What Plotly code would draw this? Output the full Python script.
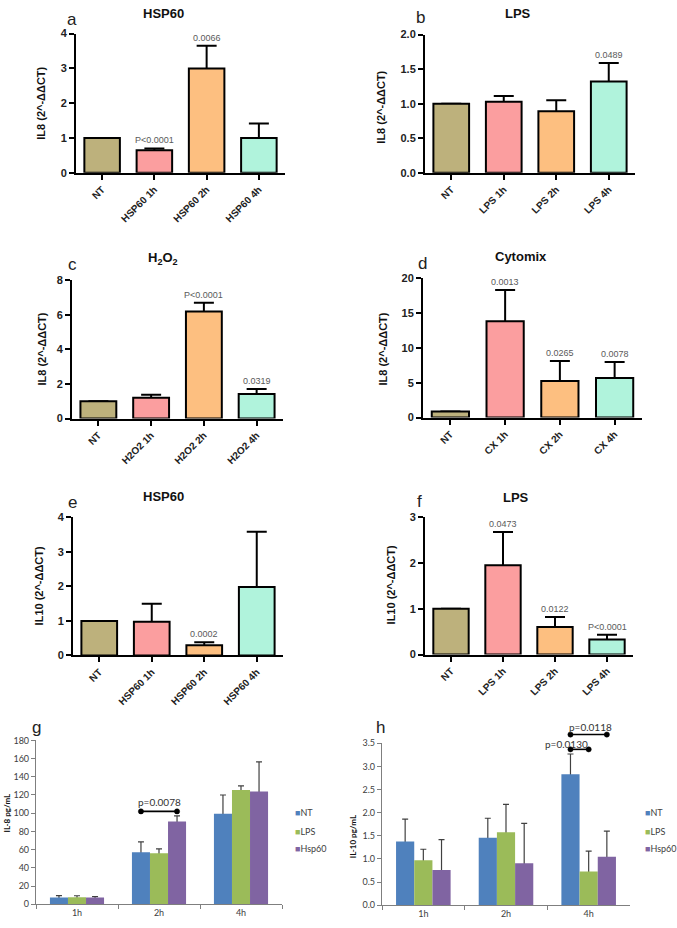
import plotly.graph_objects as go

W, H = 677, 928

# ---------------- data ----------------
cats_a = ["NT", "HSP60 1h", "HSP60 2h", "HSP60 4h"]
vals_a = [1.0, 0.65, 3.0, 1.0]
err_a = [0, 0.05, 0.65, 0.42]
p_a = ["", "P<0.0001", "0.0066", ""]

cats_b = ["NT", "LPS 1h", "LPS 2h", "LPS 4h"]
vals_b = [1.0, 1.03, 0.89, 1.32]
err_b = [0, 0.08, 0.16, 0.27]
p_b = ["", "", "", "0.0489"]

cats_c = ["NT", "H2O2 1h", "H2O2 2h", "H2O2 4h"]
vals_c = [1.0, 1.2, 6.2, 1.42]
err_c = [0, 0.18, 0.5, 0.3]
p_c = ["", "", "P<0.0001", "0.0319"]

cats_d = ["NT", "CX 1h", "CX 2h", "CX 4h"]
vals_d = [0.88, 13.85, 5.25, 5.7]
err_d = [0, 4.5, 2.9, 2.3]
p_d = ["", "0.0013", "0.0265", "0.0078"]

cats_e = ["NT", "HSP60 1h", "HSP60 2h", "HSP60 4h"]
vals_e = [1.0, 0.98, 0.3, 1.98]
err_e = [0, 0.52, 0.08, 1.6]
p_e = ["", "", "0.0002", ""]

cats_f = ["NT", "LPS 1h", "LPS 2h", "LPS 4h"]
vals_f = [1.0, 1.95, 0.6, 0.33]
err_f = [0, 0.73, 0.22, 0.1]
p_f = ["", "0.0473", "0.0122", "P<0.0001"]

times = ["1h", "2h", "4h"]
series_names = ["NT", "LPS", "Hsp60"]

il8_nt = [7.5, 57, 99.5]
il8_nt_err = [2, 11.5, 20.5]
il8_lps = [7.8, 56, 125.5]
il8_lps_err = [1.5, 4.8, 4.5]
il8_hsp = [7.5, 91, 123.8]
il8_hsp_err = [1, 6, 32.5]

il10_nt = [1.38, 1.46, 2.83]
il10_nt_err = [0.48, 0.42, 0.44]
il10_lps = [0.97, 1.58, 0.73]
il10_lps_err = [0.24, 0.6, 0.44]
il10_hsp = [0.76, 0.91, 1.05]
il10_hsp_err = [0.66, 0.86, 0.55]

# significance comparisons: (panel, category index, from offset, to offset, level, label)
sig_g = [(7, 1, -0.22, 0.22, 102, "p=0.0078")]
sig_h = [(8, 2, -0.22, 0.22, 3.69, "p=0.0118"),
         (8, 2, -0.22, 0.0, 3.37, "p=0.0130")]

bar_colors = ["#bdb17c", "#fb9e9f", "#fdbf80", "#b0f3dc"]
excel_colors = ["#4f81bd", "#9bbb59", "#8064a2"]

FONT = "Liberation Sans, Arial, sans-serif"
XFONT = "Lato, Open Sans, sans-serif"


def px(x):
    return x / W


def py(y):
    return 1 - y / H


fig = go.Figure()
annotations = []
shapes = []
layout = {}

# panel geometry (pixels): x0, x1, ytop, ybottom
geom = {
    1: (76, 285, 28, 169),
    2: (425, 635, 29, 169),
    3: (72, 283, 278, 418),
    4: (423, 642, 276, 417),
    5: (73, 283, 518, 658),
    6: (425, 633, 518, 657),
    7: (36, 282, 744, 910),
    8: (382, 630, 747, 911),
}
yranges = {7: [0, 180], 8: [0, 3.5]}


def axname(i, a):
    return a + ("" if i == 1 else str(i))


def bar_panel(i, cats, vals, errs, pvals, rng, dtick, fmt):
    xa, ya = f"x{i}" if i > 1 else "x", f"y{i}" if i > 1 else "y"
    # error bars (drawn below the bars so only the upper half shows)
    fig.add_trace(go.Bar(
        x=cats, y=vals, width=0.68, xaxis=xa, yaxis=ya,
        marker=dict(color="rgba(0,0,0,0)", line=dict(width=0)),
        error_y=dict(type="data", array=errs, color="black", thickness=2, width=10),
        hoverinfo="skip", showlegend=False, opacity=1))
    fig.add_trace(go.Bar(
        x=cats, y=vals, width=0.68, xaxis=xa, yaxis=ya,
        marker=dict(color=bar_colors, line=dict(color="black", width=2)),
        showlegend=False, opacity=1))
    for c, v, e, p in zip(cats, vals, errs, pvals):
        if p:
            annotations.append(dict(
                x=c, y=v + e, xref=xa, yref=ya, text=p, showarrow=False,
                yanchor="bottom", yshift=1,
                font=dict(family=FONT, size=9, color="#5a5a5a")))
    x0, x1, yt, yb = geom[i]
    layout[axname(i, "xaxis")] = dict(
        domain=[px(x0), px(x1)], anchor=ya, range=[-0.5, 3.5],
        showline=True, linecolor="black", linewidth=2,
        ticks="outside", ticklen=5, tickwidth=1.5, tickcolor="black",
        tickangle=-45, showgrid=False, zeroline=False,
        tickfont=dict(family=FONT, size=10, color="#222", weight="bold"))
    layout[axname(i, "yaxis")] = dict(
        domain=[py(yb), py(yt)], anchor=xa, range=rng, dtick=dtick,
        tickformat=fmt, showline=True, linecolor="black", linewidth=2,
        ticks="outside", ticklen=5, tickwidth=1.5, tickcolor="black",
        showgrid=False, zeroline=False,
        tickfont=dict(family=FONT, size=11, color="#222", weight="bold"))


bar_panel(1, cats_a, vals_a, err_a, p_a, [0, 4], 1, "d")
bar_panel(2, cats_b, vals_b, err_b, p_b, [0, 2], 0.5, ".1f")
bar_panel(3, cats_c, vals_c, err_c, p_c, [0, 8], 2, "d")
bar_panel(4, cats_d, vals_d, err_d, p_d, [0, 20], 5, "d")
bar_panel(5, cats_e, vals_e, err_e, p_e, [0, 4], 1, "d")
bar_panel(6, cats_f, vals_f, err_f, p_f, [0, 3], 1, "d")


def group_panel(i, series, errs, dtick, fmt):
    xa, ya = f"x{i}", f"y{i}"
    offsets = [-0.33, -0.11, 0.11]
    for vals, err, off, col, name in zip(series, errs, offsets, excel_colors, series_names):
        fig.add_trace(go.Bar(
            x=times, y=vals, width=0.22, offset=off, xaxis=xa, yaxis=ya,
            marker=dict(color="rgba(0,0,0,0)", line=dict(width=0)),
            error_y=dict(type="data", array=err, color="#404040", thickness=1.2, width=3),
            hoverinfo="skip", showlegend=False, opacity=1))
        fig.add_trace(go.Bar(
            x=times, y=vals, width=0.22, offset=off, xaxis=xa, yaxis=ya, name=name,
            marker=dict(color=col, line=dict(width=0)), showlegend=False, opacity=1))
    x0, x1, yt, yb = geom[i]
    layout[axname(i, "xaxis")] = dict(
        domain=[px(x0), px(x1)], anchor=ya, range=[-0.5, 2.5],
        showline=True, linecolor="#7f7f7f", linewidth=1.2,
        ticks="outside", ticklen=4, tickwidth=1, tickcolor="#7f7f7f",
        tickson="boundaries", showgrid=False, zeroline=False,
        tickfont=dict(family=XFONT, size=9, color="#404040"))
    layout[axname(i, "yaxis")] = dict(
        domain=[py(yb), py(yt)], anchor=xa, range=yranges[i], dtick=dtick, tickformat=fmt,
        showline=True, linecolor="#7f7f7f", linewidth=1.2,
        ticks="outside", ticklen=4, tickwidth=1, tickcolor="#7f7f7f",
        showgrid=False, zeroline=False,
        tickfont=dict(family=XFONT, size=9, color="#404040"))


group_panel(7, [il8_nt, il8_lps, il8_hsp], [il8_nt_err, il8_lps_err, il8_hsp_err], 20, "d")
group_panel(8, [il10_nt, il10_lps, il10_hsp], [il10_nt_err, il10_lps_err, il10_hsp_err], 0.5, ".1f")


# significance brackets (dot-ended lines); y expressed as fraction of the axis domain
def bracket(i, cat, o1, o2, level, label, tx_off, ty_shift):
    xa = f"x{i}"
    yd = f"y{i} domain"
    lo, hi = yranges[i]
    yfrac = (level - lo) / (hi - lo)
    shapes.append(dict(type="line", xref=xa, yref=yd, x0=cat + o1, x1=cat + o2,
                       y0=yfrac, y1=yfrac, line=dict(color="black", width=1.6)))
    for xe in (cat + o1, cat + o2):
        shapes.append(dict(type="circle", xref=xa, yref=yd,
                           xsizemode="pixel", ysizemode="pixel",
                           xanchor=xe, yanchor=yfrac, x0=-2.6, x1=2.6, y0=-2.6, y1=2.6,
                           fillcolor="black", line=dict(color="black", width=0.5)))
    annotations.append(dict(
        x=cat + tx_off, y=yfrac, xref=xa, yref=yd, text=label, showarrow=False,
        yanchor="bottom", yshift=ty_shift,
        font=dict(family=XFONT, size=10, color="#333")))


for (i, cat, o1, o2, lev, lab), (txo, tys) in zip(sig_g + sig_h, [(0, 1), (0.02, 0), (-0.27, -3)]):
    bracket(i, cat, o1, o2, lev, lab, txo, tys)

# legends for g and h
for lx in (293, 643):
    for name, col, ly in zip(series_names, excel_colors, [817, 836, 854]):
        annotations.append(dict(
            x=px(lx), y=py(ly), xref="paper", yref="paper", xanchor="left",
            yanchor="middle", showarrow=False,
            text=f"<span style='color:{col}'>■</span>{name}",
            font=dict(family=XFONT, size=9, color="#404040")))

# panel titles and letters
titles = [
    ("HSP60", 163, 8), ("LPS", 518, 8), ("H<sub>2</sub>O<sub>2</sub>", 163, 256),
    ("Cytomix", 521, 254), ("HSP60", 163, 497), ("LPS", 516, 498),
]
for t, x, y in titles:
    annotations.append(dict(
        x=px(x), y=py(y), xref="paper", yref="paper", text=t, showarrow=False,
        xanchor="center", yanchor="middle",
        font=dict(family=FONT, size=13, color="#111", weight="bold")))

letters = [("a", 72, 14), ("b", 420, 12), ("c", 72, 262), ("d", 422, 261),
           ("e", 72, 503), ("f", 419, 502), ("g", 36, 731), ("h", 381, 731)]
for t, x, y in letters:
    annotations.append(dict(
        x=px(x), y=py(y), xref="paper", yref="paper", text=t, showarrow=False,
        xanchor="center", yanchor="middle",
        font=dict(family=FONT, size=17, color="#222")))

ytitles = [
    ("IL8 (2^-ΔΔCT)", 41, 99, 11, FONT), ("IL8 (2^-ΔΔCT)", 381, 102, 11, FONT),
    ("IL8 (2^-ΔΔCT)", 41, 348, 11, FONT), ("IL8 (2^-ΔΔCT)", 382, 348, 11, FONT),
    ("IL10 (2^-ΔΔCT)", 39, 588, 11, FONT), ("IL10 (2^-ΔΔCT)", 391, 587, 11, FONT),
    ("IL-8 pg/mL", 7, 818, 8, XFONT), ("IL-10 pg/mL", 353, 841, 8, XFONT),
]
for t, x, y, s, fam in ytitles:
    annotations.append(dict(
        x=px(x), y=py(y), xref="paper", yref="paper", text=t, showarrow=False,
        textangle=-90, xanchor="center", yanchor="middle",
        font=dict(family=fam, size=s, color="#111", weight="bold")))

fig.update_layout(
    width=W, height=H, margin=dict(l=0, r=0, t=0, b=0),
    paper_bgcolor="white", plot_bgcolor="white",
    barmode="overlay", showlegend=False, annotations=annotations, shapes=shapes,
    **layout)

fig.write_html("out.html", config={"displayModeBar": False},
               post_script="document.body.style.margin='0';document.body.style.overflow='hidden';")
